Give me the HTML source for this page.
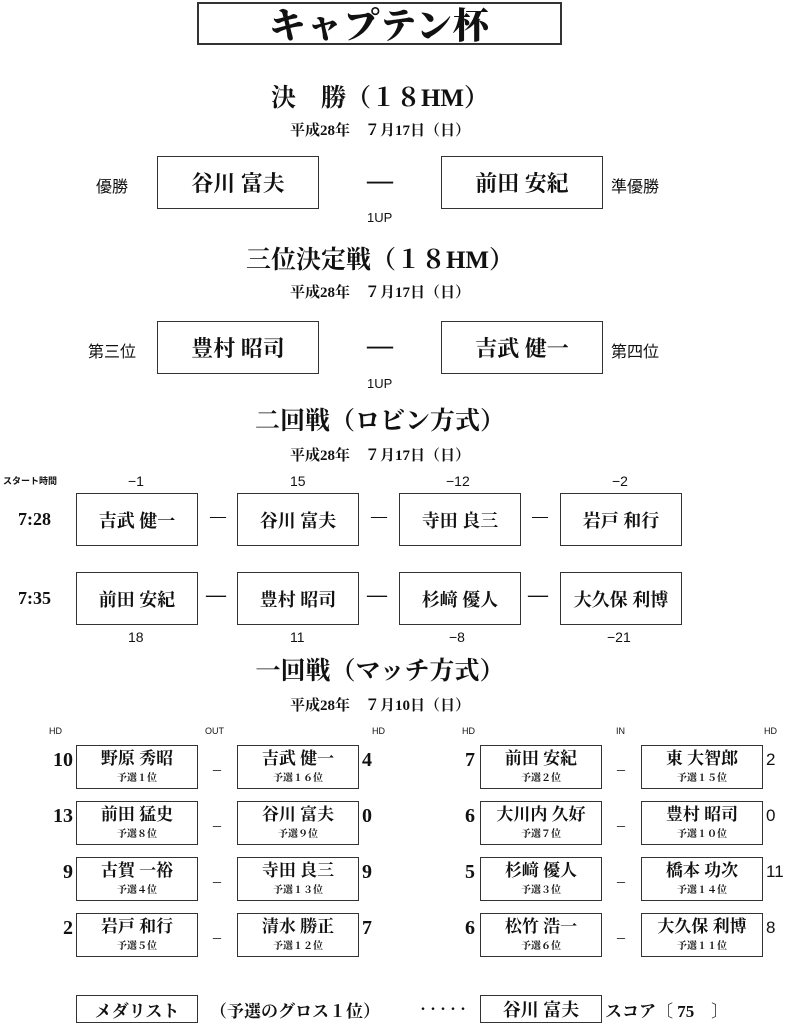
<!DOCTYPE html>
<html><head><meta charset="utf-8"><style>
*{margin:0;padding:0;box-sizing:border-box}
body{width:800px;height:1023px;background:#fff;position:relative;overflow:hidden;font-family:"Liberation Serif","Noto Serif CJK JP",serif;color:#111}
.a{position:absolute;white-space:nowrap}
.b{position:absolute;border:1.5px solid #333;background:#fff;display:flex;align-items:center;justify-content:center;font-weight:bold}
.c{text-align:center}
.s{font-family:"Liberation Sans","Noto Sans CJK JP",sans-serif}
.m{position:absolute;border:1.5px solid #333;text-align:center;font-weight:bold}
.m .n{font-size:17px;line-height:20px;margin-top:3px}
.m .r{font-size:10px;line-height:12px;margin-top:4px}
.num{position:absolute;font-weight:bold;font-size:20px}
</style></head><body>
<div class="b" style="left:197px;top:2px;width:365px;height:43px;border-width:2px;font-size:36px;font-family:'Noto Serif CJK JP',serif;font-weight:900;letter-spacing:1px">キャプテン杯</div>

<div class="a c" style="left:170px;width:420px;top:78px;font-size:25px;font-weight:bold">決　勝（１８HM）</div>
<div class="a c" style="left:180px;width:400px;top:119px;font-size:15px;font-weight:bold">平成28年　７月17日（日）</div>
<div class="a s" style="left:96px;top:173px;font-size:16px">優勝</div>
<div class="b" style="left:157px;top:156px;width:162px;height:53px;font-size:22px">谷川 富夫</div>
<div class="a" style="left:367px;top:166px;font-size:26px;font-weight:bold">—</div>
<div class="b" style="left:441px;top:156px;width:162px;height:53px;font-size:22px">前田 安紀</div>
<div class="a s" style="left:611px;top:173px;font-size:16px">準優勝</div>
<div class="a s" style="left:367px;top:210px;font-size:13px">1UP</div>

<div class="a c" style="left:170px;width:420px;top:240px;font-size:25px;font-weight:bold">三位決定戦（１８HM）</div>
<div class="a c" style="left:180px;width:400px;top:281px;font-size:15px;font-weight:bold">平成28年　７月17日（日）</div>
<div class="a s" style="left:88px;top:338px;font-size:16px">第三位</div>
<div class="b" style="left:157px;top:321px;width:162px;height:53px;font-size:22px">豊村 昭司</div>
<div class="a" style="left:367px;top:331px;font-size:26px;font-weight:bold">—</div>
<div class="b" style="left:441px;top:321px;width:162px;height:53px;font-size:22px">吉武 健一</div>
<div class="a s" style="left:611px;top:338px;font-size:16px">第四位</div>
<div class="a s" style="left:367px;top:376px;font-size:13px">1UP</div>

<div class="a c" style="left:170px;width:420px;top:401px;font-size:25px;font-weight:bold">二回戦（ロビン方式）</div>
<div class="a c" style="left:180px;width:400px;top:444px;font-size:15px;font-weight:bold">平成28年　７月17日（日）</div>
<div class="a s" style="left:3px;top:474px;font-size:9px;font-weight:bold">スタート時間</div>
<div class="a s" style="left:128px;top:473px;font-size:14px">−1</div>
<div class="a s" style="left:290px;top:473px;font-size:14px">15</div>
<div class="a s" style="left:446px;top:473px;font-size:14px">−12</div>
<div class="a s" style="left:612px;top:473px;font-size:14px">−2</div>
<div class="a" style="left:18px;top:509px;font-size:18px;font-weight:bold">7:28</div>
<div class="b" style="left:76px;top:493px;width:122px;height:53px;font-size:18px">吉武 健一</div>
<div class="a" style="left:208px;top:505px;font-size:20px;transform:scaleX(.8)">—</div>
<div class="b" style="left:237px;top:493px;width:122px;height:53px;font-size:18px">谷川 富夫</div>
<div class="a" style="left:369px;top:505px;font-size:20px;transform:scaleX(.8)">—</div>
<div class="b" style="left:399px;top:493px;width:122px;height:53px;font-size:18px">寺田 良三</div>
<div class="a" style="left:530px;top:505px;font-size:20px;transform:scaleX(.8)">—</div>
<div class="b" style="left:560px;top:493px;width:122px;height:53px;font-size:18px">岩戸 和行</div>

<div class="a" style="left:18px;top:588px;font-size:18px;font-weight:bold">7:35</div>
<div class="b" style="left:76px;top:572px;width:122px;height:53px;font-size:18px">前田 安紀</div>
<div class="a" style="left:206px;top:584px;font-size:20px;font-weight:bold">—</div>
<div class="b" style="left:237px;top:572px;width:122px;height:53px;font-size:18px">豊村 昭司</div>
<div class="a" style="left:367px;top:584px;font-size:20px;font-weight:bold">—</div>
<div class="b" style="left:399px;top:572px;width:122px;height:53px;font-size:18px">杉﨑 優人</div>
<div class="a" style="left:528px;top:584px;font-size:20px;font-weight:bold">—</div>
<div class="b" style="left:560px;top:572px;width:122px;height:53px;font-size:18px">大久保 利博</div>
<div class="a s" style="left:128px;top:629px;font-size:14px">18</div>
<div class="a s" style="left:290px;top:629px;font-size:14px">11</div>
<div class="a s" style="left:449px;top:629px;font-size:14px">−8</div>
<div class="a s" style="left:607px;top:629px;font-size:14px">−21</div>

<div class="a c" style="left:170px;width:420px;top:651px;font-size:25px;font-weight:bold">一回戦（マッチ方式）</div>
<div class="a c" style="left:180px;width:400px;top:694px;font-size:15px;font-weight:bold">平成28年　７月10日（日）</div>
<div class="a s" style="left:49px;top:726px;font-size:9px">HD</div>
<div class="a s" style="left:205px;top:726px;font-size:9px">OUT</div>
<div class="a s" style="left:372px;top:726px;font-size:9px">HD</div>
<div class="a s" style="left:462px;top:726px;font-size:9px">HD</div>
<div class="a s" style="left:616px;top:726px;font-size:9px">IN</div>
<div class="a s" style="left:764px;top:726px;font-size:9px">HD</div>

<div class="num" style="left:53px;top:749px">10</div>
<div class="m" style="left:76px;top:745px;width:122px;height:44px"><div class="n">野原 秀昭</div><div class="r">予選１位</div></div>
<div class="a" style="left:213px;top:756px;font-size:16px">_</div>
<div class="m" style="left:237px;top:745px;width:122px;height:44px"><div class="n">吉武 健一</div><div class="r">予選１６位</div></div>
<div class="num" style="left:362px;top:749px">4</div>

<div class="num" style="left:53px;top:805px">13</div>
<div class="m" style="left:76px;top:801px;width:122px;height:44px"><div class="n">前田 猛史</div><div class="r">予選８位</div></div>
<div class="a" style="left:213px;top:812px;font-size:16px">_</div>
<div class="m" style="left:237px;top:801px;width:122px;height:44px"><div class="n">谷川 富夫</div><div class="r">予選９位</div></div>
<div class="num" style="left:362px;top:805px">0</div>

<div class="num" style="left:63px;top:861px">9</div>
<div class="m" style="left:76px;top:857px;width:122px;height:44px"><div class="n">古賀 一裕</div><div class="r">予選４位</div></div>
<div class="a" style="left:213px;top:868px;font-size:16px">_</div>
<div class="m" style="left:237px;top:857px;width:122px;height:44px"><div class="n">寺田 良三</div><div class="r">予選１３位</div></div>
<div class="num" style="left:362px;top:861px">9</div>

<div class="num" style="left:63px;top:917px">2</div>
<div class="m" style="left:76px;top:913px;width:122px;height:44px"><div class="n">岩戸 和行</div><div class="r">予選５位</div></div>
<div class="a" style="left:213px;top:924px;font-size:16px">_</div>
<div class="m" style="left:237px;top:913px;width:122px;height:44px"><div class="n">清水 勝正</div><div class="r">予選１２位</div></div>
<div class="num" style="left:362px;top:917px">7</div>

<div class="num" style="left:465px;top:749px">7</div>
<div class="m" style="left:480px;top:745px;width:122px;height:44px"><div class="n">前田 安紀</div><div class="r">予選２位</div></div>
<div class="a" style="left:617px;top:756px;font-size:16px">_</div>
<div class="m" style="left:641px;top:745px;width:122px;height:44px"><div class="n">東 大智郎</div><div class="r">予選１５位</div></div>
<div class="num s" style="left:766px;top:750px;font-weight:normal;font-size:17px">2</div>

<div class="num" style="left:465px;top:805px">6</div>
<div class="m" style="left:480px;top:801px;width:122px;height:44px"><div class="n">大川内 久好</div><div class="r">予選７位</div></div>
<div class="a" style="left:617px;top:812px;font-size:16px">_</div>
<div class="m" style="left:641px;top:801px;width:122px;height:44px"><div class="n">豊村 昭司</div><div class="r">予選１０位</div></div>
<div class="num s" style="left:766px;top:806px;font-weight:normal;font-size:17px">0</div>

<div class="num" style="left:465px;top:861px">5</div>
<div class="m" style="left:480px;top:857px;width:122px;height:44px"><div class="n">杉﨑 優人</div><div class="r">予選３位</div></div>
<div class="a" style="left:617px;top:868px;font-size:16px">_</div>
<div class="m" style="left:641px;top:857px;width:122px;height:44px"><div class="n">橋本 功次</div><div class="r">予選１４位</div></div>
<div class="num s" style="left:766px;top:862px;font-weight:normal;font-size:17px">11</div>

<div class="num" style="left:465px;top:917px">6</div>
<div class="m" style="left:480px;top:913px;width:122px;height:44px"><div class="n">松竹 浩一</div><div class="r">予選６位</div></div>
<div class="a" style="left:617px;top:924px;font-size:16px">_</div>
<div class="m" style="left:641px;top:913px;width:122px;height:44px"><div class="n">大久保 利博</div><div class="r">予選１１位</div></div>
<div class="num s" style="left:766px;top:918px;font-weight:normal;font-size:17px">8</div>

<div class="b" style="left:76px;top:995px;width:122px;height:28px;font-size:17px">メダリスト</div>
<div class="a" style="left:210px;top:997px;font-size:17px;font-weight:bold">（予選のグロス１位）</div>
<div class="a" style="left:417px;top:1000px;font-size:12px;font-weight:bold;letter-spacing:-2px">・・・・・</div>
<div class="b" style="left:480px;top:995px;width:122px;height:28px;font-size:18px">谷川 富夫</div>
<div class="a" style="left:605px;top:997px;font-size:17px;font-weight:bold">スコア〔 75　〕</div>
</body></html>
